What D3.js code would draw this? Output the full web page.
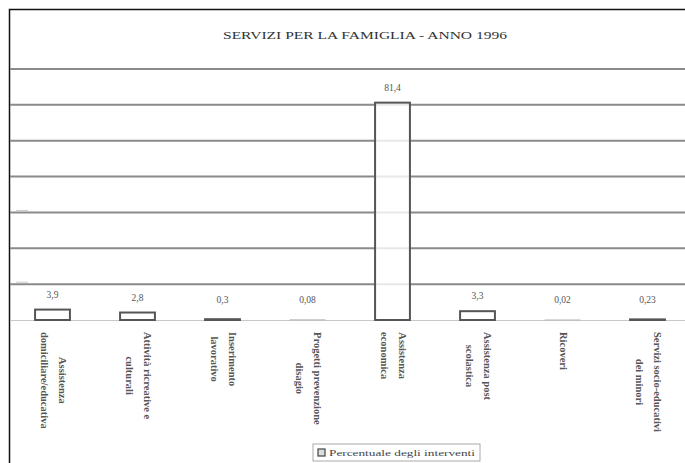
<!DOCTYPE html>
<html>
<head>
<meta charset="utf-8">
<script src="https://cdn.jsdelivr.net/npm/d3@7"></script>
<style>
  body { margin: 0; background: #fff; }
  text { font-family: "Liberation Serif", "DejaVu Serif", serif; }
</style>
</head>
<body>
<svg width="685" height="463"></svg>
<script>
// data
var categories = [
    ["Assistenza", "domiciliare/educativa"],
    ["Attività ricreative e", "culturali"],
    ["Inserimento", "lavorativo"],
    ["Progetti prevenzione", "disagio"],
    ["Assistenza", "economica"],
    ["Assistenza post", "scolastica"],
    ["Ricoveri"],
    ["Servizi socio-educativi", "dei minori"]
];
var values = [3.9, 2.8, 0.3, 0.08, 81.4, 3.3, 0.02, 0.23];
var valueLabels = ["3,9", "2,8", "0,3", "0,08", "81,4", "3,3", "0,02", "0,23"];
var titleText = "SERVIZI PER LA FAMIGLIA - ANNO 1996";
var legendText = "Percentuale degli interventi";

var yMax = 94;
var gridCount = 7;

var svg = d3.select("svg");

// outer frame (cut at right and bottom)
svg.append("path")
    .attr("d", "M9.5,463 L9.5,9.5 L685,9.5")
    .attr("fill", "none")
    .attr("stroke", "#111")
    .attr("stroke-width", 1.5);

svg.append("text")
    .attr("x", 365)
    .attr("y", 39)
    .attr("text-anchor", "middle")
    .attr("font-size", 11)
    .attr("textLength", 284)
    .attr("lengthAdjust", "spacingAndGlyphs")
    .style("fill", "#333")
    .text(titleText);

var x = d3.scaleBand()
    .domain(d3.range(values.length))
    .range([10, 690])
    .paddingInner(0.59)
    .paddingOuter(0.295);

var y = d3.scaleLinear()
    .domain([0, yMax])
    .range([320, 69]);

// gridlines
var gridVals = d3.range(1, gridCount + 1).map(function(i){ return i * yMax / gridCount; });
svg.append("g").selectAll("line")
    .data(gridVals)
    .enter()
    .append("line")
    .attr("x1", 10)
    .attr("x2", 685)
    .attr("y1", function(d){ return y(d); })
    .attr("y2", function(d){ return y(d); })
    .attr("stroke", "#8a8a8a")
    .attr("stroke-width", 2);

// baseline
svg.append("line")
    .attr("x1", 10).attr("x2", 685)
    .attr("y1", y(0) + 0.5).attr("y2", y(0) + 0.5)
    .attr("stroke", "#c8c8c8")
    .attr("stroke-width", 1);

// faint tick marks at left
svg.append("g").selectAll("line")
    .data([gridVals[2], gridVals[0]])
    .enter()
    .append("line")
    .attr("x1", 16).attr("x2", 28)
    .attr("y1", function(d){ return y(d) - 2; })
    .attr("y2", function(d){ return y(d) - 2; })
    .attr("stroke", "#ccc")
    .attr("stroke-width", 1);

// bars
svg.append("g").selectAll("rect")
    .data(values)
    .enter()
    .append("rect")
    .attr("x", function(d, i){ return x(i); })
    .attr("y", function(d){ return y(d); })
    .attr("width", x.bandwidth())
    .attr("height", function(d){ return y(0) - y(d); })
    .style("fill", "#fff")
    .style("fill-opacity", 0.8)
    .attr("stroke", function(d){ return d < 0.1 ? "#bbb" : "#555"; })
    .attr("stroke-width", function(d){ return d < 0.1 ? 1 : 2; });

// value labels
svg.append("g").selectAll("text")
    .data(values)
    .enter()
    .append("text")
    .attr("x", function(d, i){ return x(i) + x.bandwidth() / 2; })
    .attr("y", function(d){ return Math.min(y(d), y(0) - 5) - 12; })
    .attr("text-anchor", "middle")
    .attr("font-size", 9.5)
    .style("fill", "#555")
    .text(function(d, i){ return valueLabels[i]; });

// rotated category labels, lines centered on each other, block top-aligned
var labelTop = 332;
var lineGap = 18;
var gLabels = svg.append("g").selectAll("g.catLabel")
    .data(categories)
    .enter()
    .append("g")
    .attr("class", "catLabel");

gLabels.each(function(lines, i){
    var g = d3.select(this);
    var cx = x(i) + x.bandwidth() / 2;
    var texts = g.selectAll("text")
        .data(lines)
        .enter()
        .append("text")
        .attr("font-size", 10.5)
        .attr("font-weight", "bold")
        .attr("text-anchor", "middle")
        .style("fill", "#555")
        .text(function(d){ return d; });
    var maxLen = 0;
    texts.each(function(){ maxLen = Math.max(maxLen, this.getComputedTextLength()); });
    var n = lines.length;
    texts.attr("transform", function(d, k){
        var lx = cx + ((n - 1) / 2 - k) * lineGap - 3;
        return "translate(" + lx + "," + (labelTop + maxLen / 2) + ") rotate(90)";
    });
});

// legend
var legend = svg.append("g").attr("transform", "translate(313,444)");
legend.append("rect")
    .attr("width", 167)
    .attr("height", 17)
    .style("fill", "#fff")
    .attr("stroke", "#aaa")
    .attr("stroke-width", 1);
legend.append("rect")
    .attr("x", 5).attr("y", 5)
    .attr("width", 7).attr("height", 7)
    .style("fill", "#ddd")
    .attr("stroke", "#444")
    .attr("stroke-width", 1.2);
legend.append("text")
    .attr("x", 16)
    .attr("y", 12)
    .attr("font-size", 9)
    .attr("textLength", 146)
    .attr("lengthAdjust", "spacingAndGlyphs")
    .style("fill", "#444")
    .text(legendText);
</script>
</body>
</html>
